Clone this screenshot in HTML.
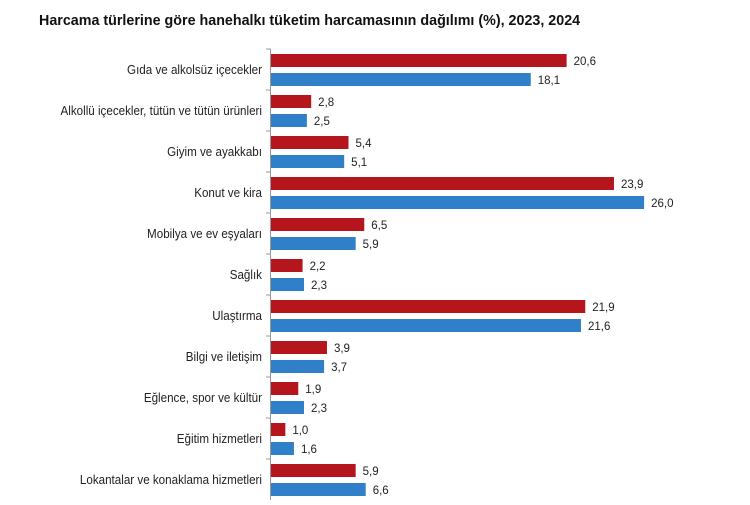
<!DOCTYPE html>
<html><head><meta charset="utf-8"><style>
body{margin:0;background:#fff;width:750px;height:500px;overflow:hidden;font-family:"Liberation Sans",sans-serif}
</style></head><body>
<svg width="750" height="500" xmlns="http://www.w3.org/2000/svg" font-family="Liberation Sans, sans-serif">
<text x="39" y="25" font-size="14.3" font-weight="bold" fill="#111">Harcama türlerine göre hanehalkı tüketim harcamasının dağılımı (%), 2023, 2024</text>
<line x1="270.5" y1="49" x2="270.5" y2="500" stroke="#999" stroke-width="1"/>
<g id="rows"></g>
</svg>
<script>
var d=[["Gıda ve alkolsüz içecekler",20.6,18.1],["Alkollü içecekler, tütün ve tütün ürünleri",2.8,2.5],["Giyim ve ayakkabı",5.4,5.1],["Konut ve kira",23.9,26.0],["Mobilya ve ev eşyaları",6.5,5.9],["Sağlık",2.2,2.3],["Ulaştırma",21.9,21.6],["Bilgi ve iletişim",3.9,3.7],["Eğlence, spor ve kültür",1.9,2.3],["Eğitim hizmetleri",1.0,1.6],["Lokantalar ve konaklama hizmetleri",5.9,6.6]];
var g=document.getElementById("rows"),s="",k=14.35,x0=271;
function f(v){return v.toFixed(1).replace(".",",");}
d.forEach(function(r,i){var y=49+41*i;
s+='<line x1="266" x2="271" y1="'+y+'" y2="'+y+'" stroke="#999"/>';
s+='<text transform="translate(262,'+(y+25)+') scale(0.93,1)" font-size="12.5" text-anchor="end" fill="#222">'+r[0]+'</text>';
s+='<rect x="'+x0+'" y="'+(y+5)+'" width="'+(r[1]*k)+'" height="13" fill="#b5161e"/>';
s+='<rect x="'+x0+'" y="'+(y+24)+'" width="'+(r[2]*k)+'" height="13" fill="#2f7fc9"/>';
s+='<text x="'+(x0+r[1]*k+7)+'" y="'+(y+16)+'" font-size="11.5" fill="#222">'+f(r[1])+'</text>';
s+='<text x="'+(x0+r[2]*k+7)+'" y="'+(y+35)+'" font-size="11.5" fill="#222">'+f(r[2])+'</text>';
});
g.innerHTML=s;
</script>
</body></html>
